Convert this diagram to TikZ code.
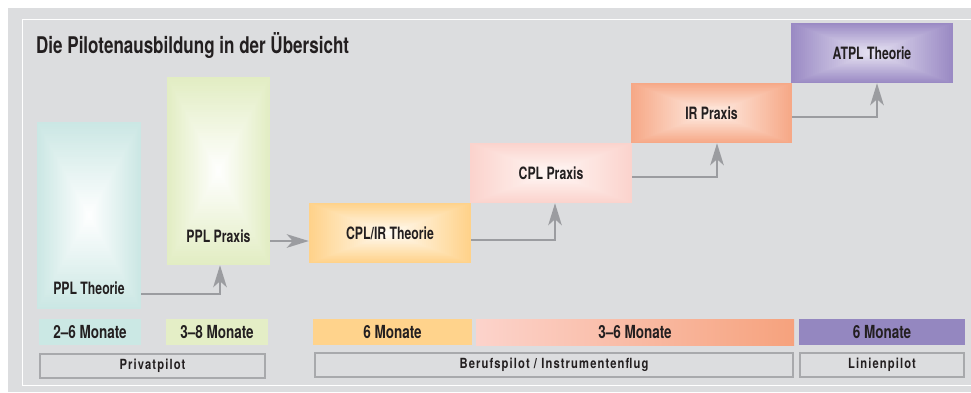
\documentclass[tikz,border=0pt]{standalone}
\usepackage{fontspec}
\usetikzlibrary{arrows.meta,calc}
\newfontfamily\cnd[FakeStretch=0.75]{TeX Gyre Heros}
\newfontfamily\cndt[FakeStretch=0.74]{TeX Gyre Heros}
\newfontfamily\cndb[FakeStretch=0.72]{TeX Gyre Heros}
\newfontfamily\catf[FakeStretch=0.8,LetterSpace=8]{TeX Gyre Heros}
\definecolor{bg}{HTML}{DCDDDF}
\definecolor{arrgray}{HTML}{9B9CA0}
\definecolor{catgray}{HTML}{A8A9AC}
\definecolor{txt}{HTML}{231F20}
\definecolor{tealE}{HTML}{CBE7E4}
\definecolor{greenE}{HTML}{E2EDC3}
\definecolor{orangeE}{HTML}{FFD28A}
\definecolor{orangeC}{HTML}{FFFCF5}
\definecolor{pinkE}{HTML}{FBD3CD}
\definecolor{pinkC}{HTML}{FFF8F6}
\definecolor{salmonE}{HTML}{F6A887}
\definecolor{salmonC}{HTML}{FFF0E8}
\definecolor{lilaE}{HTML}{9A8AC4}
\definecolor{lilaC}{HTML}{E8E4F3}
\definecolor{tealB}{HTML}{CBE8E4}
\definecolor{greenB}{HTML}{E4EEC6}
\definecolor{orangeB}{HTML}{FFD38C}
\definecolor{pinkB}{HTML}{FCD3CB}
\definecolor{salmonB}{HTML}{F6A27D}
\definecolor{lilaB}{HTML}{9487C0}
\newcommand\gradrect[6]{%
  \foreach \i in {0,...,39}{%
    \pgfmathsetmacro\grT{\i/40}%
    \pgfmathsetmacro\grP{100*(1-\grT)}%
    \fill[#5!\grP!#6] ({#1+\grT*(#3-#1)/2},{#2+\grT*(#4-#2)/2}) rectangle ({#3-\grT*(#3-#1)/2},{#4-\grT*(#4-#2)/2});
  }}
\tikzset{
  boxn/.style={draw=none, inner sep=0pt, rectangle},
  lbl/.style={font=\cndb\bfseries\fontsize{17}{19}\selectfont, text=txt},
  barn/.style={draw=none, inner sep=0pt, rectangle, minimum height=26pt, font=\cnd\bfseries\fontsize{18}{20}\selectfont, text=txt},
  catn/.style={draw=catgray, line width=2.2pt, inner sep=0pt, rectangle, minimum height=24pt, font=\catf\bfseries\fontsize{14}{16}\selectfont, text=txt},
  arr/.style={draw=arrgray, line width=2.5pt, -{Stealth[length=22pt,width=13.5pt,inset=6pt]}},
  titlen/.style={font=\cndt\bfseries\fontsize{23}{25}\selectfont, text=txt, inner sep=0pt}
}
\begin{document}
\begin{tikzpicture}[x=1pt,y=-1pt]
\useasboundingbox (0,0) rectangle (971,392);
\fill[bg] (8,8) rectangle (971,392);
\draw[white, line width=1.5pt] (971,19.5) -- (22.5,19.5) -- (22.5,385.5) -- (971,385.5);
\node[titlen, anchor=base west] (title) at (36,53) {Die Pilotenausbildung in der Übersicht};
% gradient boxes
\gradrect{37}{122}{141}{309}{tealE}{white}
\gradrect{167}{77}{270}{265}{greenE}{white}
\gradrect{309}{203}{471}{263}{orangeE}{orangeC}
\gradrect{470}{143}{632}{203}{pinkE}{pinkC}
\gradrect{631}{83}{792}{143}{salmonE}{salmonC}
\gradrect{791}{23}{953}{83}{lilaE}{lilaC}
\node[boxn, minimum width=104pt, minimum height=187pt, label={[lbl, anchor=base, yshift=15pt]south:PPL Theorie}] (ppltheo) at (89,215.5) {};
\node[boxn, minimum width=103pt, minimum height=188pt, label={[lbl, anchor=base, yshift=23pt]south:PPL Praxis}] (pplpraxis) at (218.5,171) {};
\node[boxn, lbl, minimum width=162pt, minimum height=60pt] (cplir) at (390,233) {CPL/IR Theorie};
\node[boxn, lbl, minimum width=162pt, minimum height=60pt] (cplpraxis) at (551,173) {CPL Praxis};
\node[boxn, lbl, minimum width=161pt, minimum height=60pt] (irpraxis) at (711.5,113) {IR Praxis};
\node[boxn, lbl, minimum width=162pt, minimum height=60pt] (atpl) at (872,53) {ATPL Theorie};
% arrows
\coordinate (a2end) at ([yshift=-8pt]cplir.west);
\draw[arr] ([yshift=15pt]ppltheo.south east) -| ([xshift=1.5pt]pplpraxis.south);
\draw[arr] (pplpraxis.east |- a2end) -- (a2end);
\draw[arr] ([yshift=-7pt]cplir.east) -| ([xshift=4pt]cplpraxis.south);
\draw[arr] ([yshift=-4pt]cplpraxis.east) -| ([xshift=5.5pt]irpraxis.south);
\draw[arr] ([yshift=-4pt]irpraxis.east) -| ([xshift=5pt]atpl.south);
% duration bars
\node[barn, fill=tealB, minimum width=102pt] (d1) at (90,332) {2–6 Monate};
\node[barn, fill=greenB, minimum width=102pt] (d2) at (217,332) {3–8 Monate};
\node[barn, fill=orangeB, minimum width=159pt] (d3) at (392.5,332) {6 Monate};
\shade[left color=pinkB, right color=salmonB] (476,319) rectangle (794,345);
\node[barn, minimum width=318pt] (d4) at (635,332) {3–6 Monate};
\node[barn, fill=lilaB, minimum width=166pt] (d5) at (882,332) {6 Monate};
% categories
\node[catn, minimum width=225pt] (c1) at (152.5,366) {Privatpilot};
\node[catn, minimum width=478pt] (c2) at (554,365) {Berufspilot / Instrumentenflug};
\node[catn, minimum width=164pt] (c3) at (882,365) {Linienpilot};
\end{tikzpicture}
\end{document}
